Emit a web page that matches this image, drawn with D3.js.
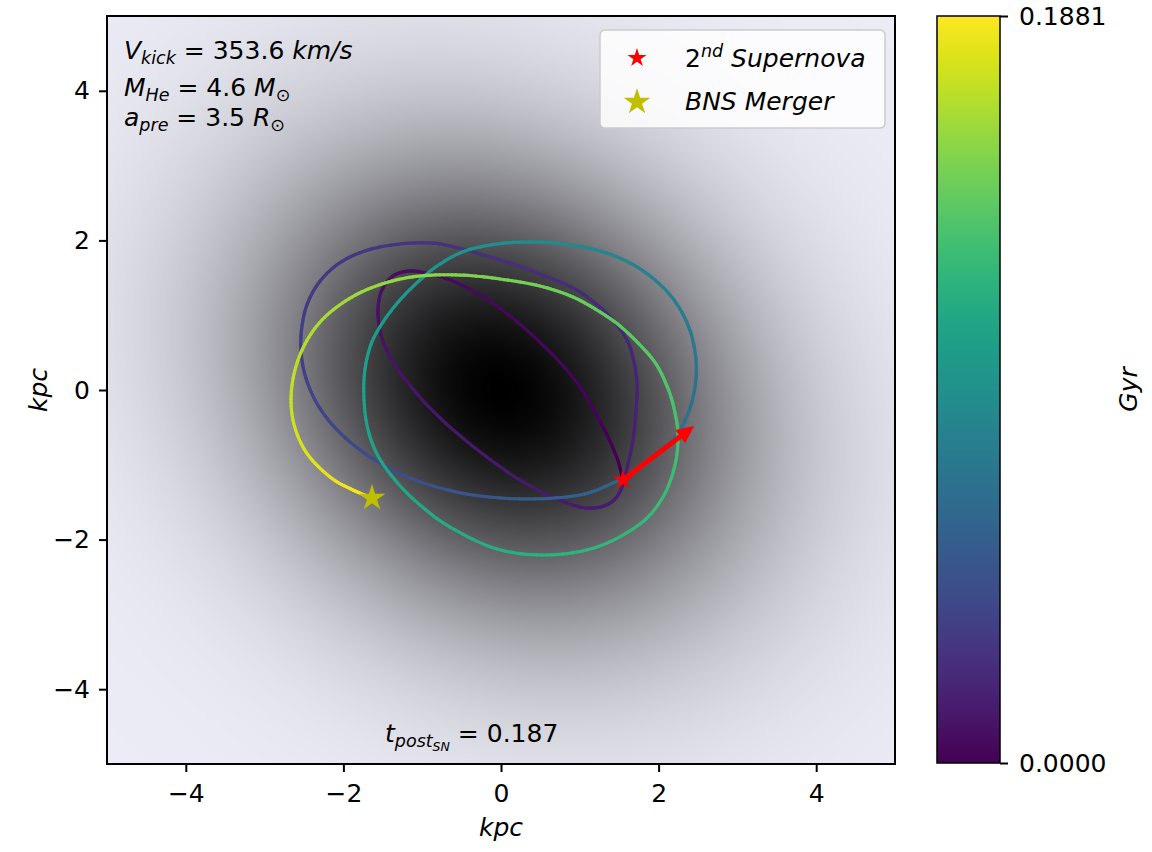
<!DOCTYPE html>
<html>
<head>
<meta charset="utf-8">
<script src="https://cdn.jsdelivr.net/npm/d3@7"></script>
<style>
  html, body { margin: 0; padding: 0; background: #ffffff; }
  svg { display: block; }
  text { font-family: "DejaVu Sans", sans-serif; fill: #000; }
</style>
</head>
<body>
<svg id="chart" width="1152" height="852"></svg>
<script>
// ---------------- DATA ----------------
const xTicks = [-4, -2, 0, 2, 4];
const yTicks = [-4, -2, 0, 2, 4];
const timeMax = 0.1881;            // Gyr, colour bar top
const colorbarTicks = [0, 0.1881];
const tPostSN = "0.187";
const vKick = "353.6";
const mHe = "4.6";
const aPre = "3.5";

// orbit trace (kpc), in time order from the 2nd supernova to the merger
const orbitX = [
  1.548, 1.472, 1.345, 1.180, 0.939, 0.596, 0.178, -0.203, -0.584, -0.901,
  -1.155, -1.371, -1.510, -1.561, -1.523, -1.383, -1.129, -0.774, -0.330, 0.178,
  0.622, 1.003, 1.256, 1.434, 1.535, 1.599,
  1.675, 1.713, 1.726, 1.688, 1.599, 1.421, 1.193, 0.914, 0.558, 0.152,
  -0.266, -0.647, -0.901, -1.282, -1.688, -2.030, -2.284, -2.449, -2.525, -2.538,
  -2.487, -2.360, -2.170, -1.916, -1.599, -1.218, -0.774, -0.266, 0.368, 1.003,
  1.421, 1.764, 2.043, 2.272, 2.411, 2.475, 2.462, 2.373, 2.195, 1.954,
  1.637, 1.256, 0.812, 0.368, -0.051, -0.457, -0.774, -1.028, -1.282, -1.497,
  -1.662, -1.739, -1.713, -1.586, -1.345, -1.028, -0.647, -0.051, 0.584, 1.218,
  1.764, 2.056, 2.208, 2.246, 2.195, 2.107, 1.967, 1.777, 1.510, 1.256,
  0.914, 0.495, -0.013, -0.520, -1.028, -1.472, -1.891, -2.272, -2.525, -2.652,
  -2.640, -2.475, -2.170, -1.878, -1.637];
const orbitY = [
  -1.203, -0.909, -0.602, -0.267, 0.134, 0.535, 0.936, 1.230, 1.444, 1.551,
  1.591, 1.524, 1.337, 1.070, 0.735, 0.401, 0.027, -0.374, -0.775, -1.163,
  -1.417, -1.564, -1.564, -1.471, -1.297, -1.043,
  -0.668, -0.267, 0.067, 0.374, 0.668, 0.936, 1.163, 1.364, 1.524, 1.684,
  1.818, 1.925, 1.965, 1.952, 1.872, 1.711, 1.471, 1.176, 0.856, 0.535,
  0.201, -0.134, -0.428, -0.695, -0.936, -1.150, -1.310, -1.417, -1.457, -1.404,
  -1.243, -1.043, -0.802, -0.535, -0.201, 0.160, 0.508, 0.869, 1.203, 1.471,
  1.698, 1.858, 1.952, 1.979, 1.952, 1.858, 1.684, 1.471, 1.203, 0.909,
  0.575, 0.134, -0.401, -0.829, -1.203, -1.537, -1.832, -2.126, -2.206, -2.099,
  -1.791, -1.430, -1.003, -0.602, -0.241, 0.053, 0.348, 0.588, 0.856, 1.043,
  1.243, 1.390, 1.484, 1.537, 1.524, 1.430, 1.243, 0.936, 0.535, 0.067,
  -0.401, -0.829, -1.163, -1.337, -1.444];
const orbitT = [
  0.0000, 0.0006, 0.0011, 0.0019, 0.0026, 0.0034, 0.0041, 0.0049, 0.0056, 0.0062,
  0.0068, 0.0073, 0.0079, 0.0085, 0.0090, 0.0096, 0.0103, 0.0111, 0.0119, 0.0126,
  0.0134, 0.0139, 0.0145, 0.0150, 0.0156, 0.0162,
  0.0169, 0.0179, 0.0188, 0.0198, 0.0207, 0.0216, 0.0226, 0.0235, 0.0245, 0.0254,
  0.0263, 0.0273, 0.0280, 0.0290, 0.0299, 0.0308, 0.0318, 0.0327, 0.0337, 0.0348,
  0.0363, 0.0378, 0.0395, 0.0414, 0.0433, 0.0451, 0.0474, 0.0498, 0.0527, 0.0564,
  0.0593, 0.0621, 0.0649, 0.0677, 0.0702, 0.0726, 0.0751, 0.0775, 0.0799, 0.0822,
  0.0845, 0.0867, 0.0888, 0.0909, 0.0929, 0.0948, 0.0967, 0.0986, 0.1004, 0.1021,
  0.1038, 0.1055, 0.1074, 0.1093, 0.1112, 0.1130, 0.1151, 0.1178, 0.1204, 0.1230,
  0.1255, 0.1277, 0.1298, 0.1319, 0.1337, 0.1356, 0.1375, 0.1394, 0.1413, 0.1431,
  0.1452, 0.1475, 0.1499, 0.1524, 0.1550, 0.1576, 0.1604, 0.1635, 0.1667, 0.1700,
  0.1736, 0.1774, 0.1811, 0.1847, 0.1881];

const supernovaPos = [1.548, -1.203];
const mergerPos = [-1.637, -1.444];
const kickTip = [2.44, -0.49];

// galaxy surface-brightness shape (kpc)
const galaxySigmaMajor = 2.3;   // along NW-SE
const galaxySigmaMinor = 1.9;   // along NE-SW

// ---------------- LAYOUT ----------------
const svg = d3.select("#chart");
const X0 = 107, X1 = 895, Y0 = 16, Y1 = 764;
const x = d3.scaleLinear().domain([-5, 5]).range([X0, X1]);
const y = d3.scaleLinear().domain([-5, 5]).range([Y1, Y0]);
const FS = 25;
const minus = d => d < 0 ? "\u2212" + Math.abs(d) : String(d);

// ---------------- BACKGROUND (galaxy) ----------------
const W = X1 - X0, H = Y1 - Y0;
const cv = document.createElement("canvas");
cv.width = W; cv.height = H;
const ctx = cv.getContext("2d");
const img = ctx.createImageData(W, H);
const s2 = Math.SQRT1_2;
for (let j = 0; j < H; j++) {
  const dy = y.invert(Y0 + j + 0.5);
  for (let i = 0; i < W; i++) {
    const dx = x.invert(X0 + i + 0.5);
    const u = (dx - dy) * s2;   // NW-SE axis
    const w = (dx + dy) * s2;   // NE-SW axis
    const q = u * u / (2 * galaxySigmaMajor * galaxySigmaMajor) + w * w / (2 * galaxySigmaMinor * galaxySigmaMinor);
    const v = 1 - Math.exp(-q);
    const k = (j * W + i) * 4;
    img.data[k] = 236 * v;
    img.data[k + 1] = 236 * v;
    img.data[k + 2] = 246 * v;
    img.data[k + 3] = 255;
  }
}
ctx.putImageData(img, 0, 0);
svg.append("image")
  .attr("x", X0).attr("y", Y0).attr("width", W).attr("height", H)
  .attr("href", cv.toDataURL());

// ---------------- ORBIT ----------------
const clip = svg.append("clipPath").attr("id", "plotclip");
clip.append("rect").attr("x", X0).attr("y", Y0).attr("width", W).attr("height", H);

const cScale = d3.scaleSequential(d3.interpolateViridis).domain([0, timeMax]);
const pts = orbitX.map((d, i) => [x(d), y(orbitY[i])]);
const gOrbit = svg.append("g").attr("clip-path", "url(#plotclip)");
const N = pts.length;
const sub = 10;
for (let i = 0; i < N - 1; i++) {
  const p0 = pts[Math.max(i - 1, 0)], p1 = pts[i], p2 = pts[i + 1], p3 = pts[Math.min(i + 2, N - 1)];
  const c1 = [p1[0] + (p2[0] - p0[0]) / 6, p1[1] + (p2[1] - p0[1]) / 6];
  const c2 = [p2[0] - (p3[0] - p1[0]) / 6, p2[1] - (p3[1] - p1[1]) / 6];
  const bez = s => {
    const a = 1 - s;
    return [
      a * a * a * p1[0] + 3 * a * a * s * c1[0] + 3 * a * s * s * c2[0] + s * s * s * p2[0],
      a * a * a * p1[1] + 3 * a * a * s * c1[1] + 3 * a * s * s * c2[1] + s * s * s * p2[1]
    ];
  };
  let prev = p1;
  for (let k = 1; k <= sub; k++) {
    const s = k / sub;
    const p = bez(s);
    const t = orbitT[i] + (orbitT[i + 1] - orbitT[i]) * (s - 0.5 / sub);
    gOrbit.append("line")
      .attr("x1", prev[0]).attr("y1", prev[1]).attr("x2", p[0]).attr("y2", p[1])
      .attr("stroke", cScale(t))
      .attr("stroke-width", 3.2)
      .attr("stroke-linecap", "round");
    prev = p;
  }
}

// kick arrow
{
  const ax0 = x(supernovaPos[0]), ay0 = y(supernovaPos[1]);
  const ax1 = x(kickTip[0]), ay1 = y(kickTip[1]);
  const ang = Math.atan2(ay1 - ay0, ax1 - ax0);
  const hl = 16, hw = 7.5;
  const bx = ax1 - hl * Math.cos(ang), by = ay1 - hl * Math.sin(ang);
  svg.append("line")
    .attr("x1", ax0).attr("y1", ay0).attr("x2", bx).attr("y2", by)
    .attr("stroke", "#ff0000").attr("stroke-width", 5);
  const nx = -Math.sin(ang), ny = Math.cos(ang);
  svg.append("polygon")
    .attr("points", [[ax1, ay1], [bx + nx * hw, by + ny * hw], [bx - nx * hw, by - ny * hw]].map(p => p.join(",")).join(" "))
    .attr("fill", "#ff0000").attr("stroke", "#ff0000").attr("stroke-width", 1);
}

// star markers
const star = (r) => d3.symbol().type(d3.symbolStar).size(r * r / 0.8908130915292852)();
svg.append("path").attr("d", star(10.5))
  .attr("transform", `translate(${x(supernovaPos[0])},${y(supernovaPos[1])})`)
  .attr("fill", "#ff0000");
svg.append("path").attr("d", star(14))
  .attr("transform", `translate(${x(mergerPos[0])},${y(mergerPos[1])})`)
  .attr("fill", "#bfbf00");

// ---------------- FRAME & AXES ----------------
svg.append("rect").attr("x", X0).attr("y", Y0).attr("width", W).attr("height", H)
  .attr("fill", "none").attr("stroke", "#000").attr("stroke-width", 2);

const xAxis = svg.append("g").attr("transform", `translate(0,${Y1})`)
  .call(d3.axisBottom(x).tickValues(xTicks).tickSize(8).tickPadding(12).tickFormat(minus));
const yAxis = svg.append("g").attr("transform", `translate(${X0},0)`)
  .call(d3.axisLeft(y).tickValues(yTicks).tickSize(8).tickPadding(9).tickFormat(minus));
[xAxis, yAxis].forEach(g => {
  g.select(".domain").remove();
  g.selectAll(".tick line").attr("stroke", "#000").attr("stroke-width", 2);
  g.selectAll(".tick text").attr("font-size", FS).attr("font-family", "DejaVu Sans").attr("fill", "#000");
});

svg.append("text").attr("x", (X0 + X1) / 2).attr("y", 836).attr("text-anchor", "middle")
  .attr("font-size", FS).attr("font-style", "italic").text("kpc");
svg.append("text").attr("transform", `translate(47,${(Y0 + Y1) / 2}) rotate(-90)`).attr("text-anchor", "middle")
  .attr("font-size", FS).attr("font-style", "italic").text("kpc");

// ---------------- ANNOTATIONS ----------------
function mathText(xp, yp, parts) {
  const t = svg.append("text").attr("x", xp).attr("y", yp).attr("font-size", FS);
  parts.forEach(p => {
    const ts = t.append("tspan").text(p.s);
    if (p.i) ts.attr("font-style", "italic");
    if (p.fs) ts.attr("font-size", p.fs);
    if (p.dy) ts.attr("dy", p.dy);
  });
  return t;
}
const SUB = FS * 0.7;
mathText(124, 59, [
  { s: "V", i: 1 }, { s: "kick", i: 1, fs: SUB, dy: 5 },
  { s: " = " + vKick + " ", dy: -5 }, { s: "km/s", i: 1 }
]);
mathText(124, 96, [
  { s: "M", i: 1 }, { s: "He", i: 1, fs: SUB, dy: 5 },
  { s: " = " + mHe + " ", dy: -5 }, { s: "M", i: 1 }, { s: "\u2299", fs: SUB, dy: 5 }
]);
mathText(124, 126, [
  { s: "a", i: 1 }, { s: "pre", i: 1, fs: SUB, dy: 5 },
  { s: " = " + aPre + " ", dy: -5 }, { s: "R", i: 1 }, { s: "\u2299", fs: SUB, dy: 5 }
]);
mathText(385, 742, [
  { s: "t", i: 1 }, { s: "post", i: 1, fs: SUB, dy: 5 },
  { s: "SN", i: 1, fs: FS * 0.5, dy: 4 },
  { s: " = " + tPostSN, dy: -9 }
]);

// ---------------- LEGEND ----------------
svg.append("rect").attr("x", 600).attr("y", 30).attr("width", 285).attr("height", 98).attr("rx", 5)
  .attr("fill", "#ffffff").attr("fill-opacity", 0.85).attr("stroke", "#cccccc").attr("stroke-width", 1.5);
svg.append("path").attr("d", star(10)).attr("transform", "translate(637,58)").attr("fill", "#ff0000");
svg.append("path").attr("d", star(14)).attr("transform", "translate(637,102)").attr("fill", "#bfbf00");
mathText(685, 67, [
  { s: "2" }, { s: "nd", i: 1, fs: SUB, dy: -10 }, { s: " Supernova", i: 1, dy: 10 }
]);
mathText(685, 110, [{ s: "BNS Merger", i: 1 }]);

// ---------------- COLOUR BAR ----------------
const CB0 = 937, CB1 = 1000, CBT = 16, CBB = 763;
const defs = svg.append("defs");
const grad = defs.append("linearGradient").attr("id", "viridis")
  .attr("x1", 0).attr("y1", 1).attr("x2", 0).attr("y2", 0);
d3.range(0, 1.0001, 0.05).forEach(s => {
  grad.append("stop").attr("offset", s).attr("stop-color", d3.interpolateViridis(s));
});
svg.append("rect").attr("x", CB0).attr("y", CBT).attr("width", CB1 - CB0).attr("height", CBB - CBT)
  .attr("fill", "url(#viridis)").attr("stroke", "#000").attr("stroke-width", 1.5);
const cbScale = d3.scaleLinear().domain([0, timeMax]).range([CBB, CBT]);
const cbAxis = svg.append("g").attr("transform", `translate(${CB1},0)`)
  .call(d3.axisRight(cbScale).tickValues(colorbarTicks).tickSize(8).tickPadding(11).tickFormat(d3.format(".4f")));
cbAxis.select(".domain").remove();
cbAxis.selectAll(".tick line").attr("stroke", "#000").attr("stroke-width", 2);
cbAxis.selectAll(".tick text").attr("font-size", FS).attr("font-family", "DejaVu Sans").attr("fill", "#000");
svg.append("text").attr("transform", `translate(1137,${(CBT + CBB) / 2}) rotate(-90)`).attr("text-anchor", "middle")
  .attr("font-size", FS).attr("font-style", "italic").text("Gyr");
</script>
</body>
</html>
